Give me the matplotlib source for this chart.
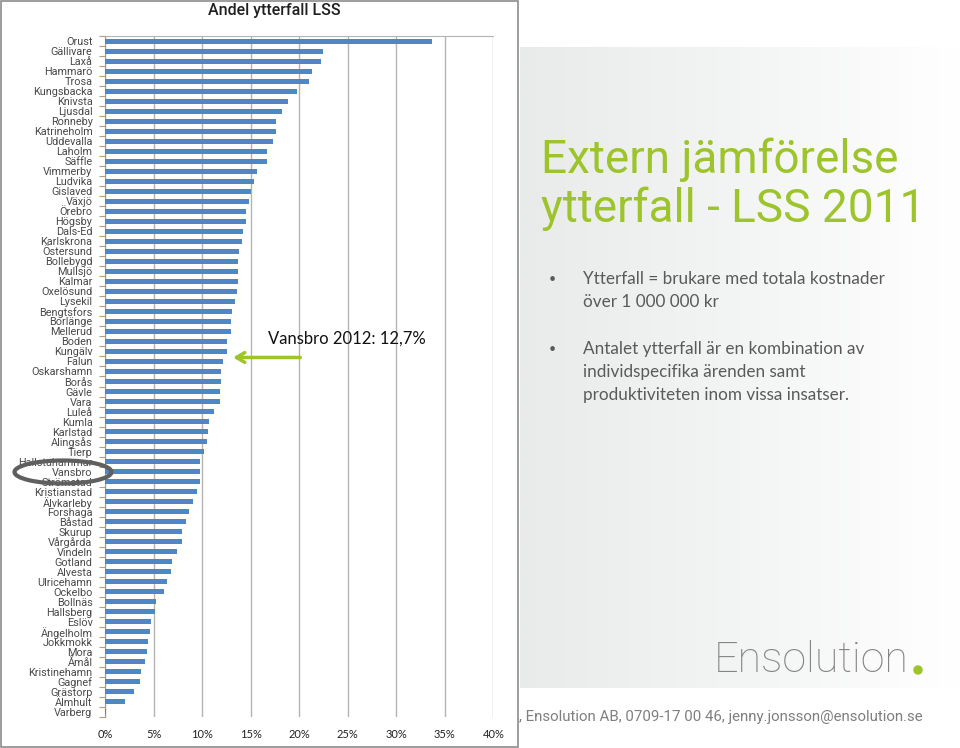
import matplotlib.pyplot as plt
import matplotlib.colors as mcolors
from matplotlib.patches import Rectangle, Ellipse
import numpy as np


kommuner = [
    "Orust", "Gällivare", "Laxå", "Hammarö", "Trosa", "Kungsbacka", "Knivsta",
    "Ljusdal", "Ronneby", "Katrineholm", "Uddevalla", "Laholm", "Säffle",
    "Vimmerby", "Ludvika", "Gislaved", "Växjö", "Örebro", "Högsby", "Dals-Ed",
    "Karlskrona", "Östersund", "Bollebygd", "Mullsjö", "Kalmar", "Oxelösund",
    "Lysekil", "Bengtsfors", "Borlänge", "Mellerud", "Boden", "Kungälv", "Falun",
    "Oskarshamn", "Borås", "Gävle", "Vara", "Luleå", "Kumla", "Karlstad",
    "Alingsås", "Tierp", "Hallstahammar", "Vansbro", "Strömstad", "Kristianstad",
    "Älvkarleby", "Forshaga", "Båstad", "Skurup", "Vårgårda", "Vindeln",
    "Gotland", "Alvesta", "Ulricehamn", "Ockelbo", "Bollnäs", "Hallsberg",
    "Eslöv", "Ängelholm", "Jokkmokk", "Mora", "Åmål", "Kristinehamn", "Gagnef",
    "Grästorp", "Älmhult", "Varberg",
]
andel = [
    33.7, 22.5, 22.2, 21.3, 21.0, 19.8, 18.8,
    18.2, 17.6, 17.6, 17.3, 16.7, 16.65,
    15.7, 15.4, 15.0, 14.8, 14.55, 14.5, 14.25,
    14.1, 13.8, 13.75, 13.7, 13.7, 13.6,
    13.35, 13.1, 12.95, 12.95, 12.6, 12.6, 12.2,
    12.0, 11.9, 11.85, 11.85, 11.2, 10.75, 10.65,
    10.5, 10.2, 9.8, 9.8, 9.75, 9.5,
    9.05, 8.7, 8.3, 7.9, 7.9, 7.4,
    6.9, 6.75, 6.4, 6.05, 5.3, 5.1,
    4.7, 4.6, 4.4, 4.3, 4.1, 3.7, 3.6,
    3.0, 2.05, 0.1,
]
xticks = [0, 5, 10, 15, 20, 25, 30, 35, 40]

GREEN = "#9dc42a"
BAR_BLUE = "#4f86c6"
W, H = 960, 748

fig = plt.figure(figsize=(W / 100, H / 100), dpi=100)
fig.patch.set_facecolor("white")

# background slide, drawn in pixel coordinates
bg = fig.add_axes([0, 0, 1, 1])
bg.set_xlim(0, W)
bg.set_ylim(H, 0)
bg.axis("off")

grad_cmap = mcolors.LinearSegmentedColormap.from_list("g", ["#e9eaea", "#f3f4f4", "#ffffff"])
bg.imshow(np.linspace(0, 1, 256).reshape(1, -1), cmap=grad_cmap, aspect="auto",
          extent=(520, W, 688, 47), zorder=0)
bg.text(519, 717, ", Ensolution AB, 0709-17 00 46, jenny.jonsson@ensolution.se",
        color="#7f7f7f", fontsize=10.8, family="Roboto", va="center", ha="left", zorder=1)
bg.add_patch(Rectangle((1, 0.5), 517, 746, facecolor="white", edgecolor="#8c8c8c",
                       linewidth=1.2, zorder=2))

bg.text(541, 173, "Extern jämförelse", color=GREEN, fontsize=33, family="Roboto",
        va="baseline", ha="left")
bg.text(541, 222, "ytterfall - LSS 2011", color=GREEN, fontsize=33, family="Roboto",
        va="baseline", ha="left")

text_gray = "#5a5a5a"
bullets = [
    (279, ["Ytterfall = brukare med totala kostnader", "över 1 000 000 kr"]),
    (349, ["Antalet ytterfall är en kombination av", "individspecifika ärenden samt",
           "produktiviteten inom vissa insatser."]),
]
for y0, lines in bullets:
    bg.text(549, y0, "•", color=text_gray, fontsize=9, family="Lato", va="center")
    for k, line in enumerate(lines):
        bg.text(583, y0 + 23 * k, line, color=text_gray, fontsize=12.3, family="Lato",
                va="center", ha="left")

bg.text(909, 661, "Ensolution", color="#858585", fontsize=31, family="Roboto",
        fontweight="light", ha="right", va="center")
bg.add_patch(Ellipse((918, 670), 8, 8, color=GREEN, zorder=3))

# chart
ax = fig.add_axes([105 / W, 1 - 717 / H, (493.3 - 105) / W, (717 - 36) / H])
ax.set_facecolor("none")
y = np.arange(len(kommuner))
ax.barh(y, andel, height=0.5, color=BAR_BLUE, zorder=3)
ax.set_xlim(0, 40)
ax.set_ylim(len(kommuner) - 0.5, -0.5)
ax.set_xticks(xticks)
ax.set_xticklabels([f"{v}%" for v in xticks], fontsize=8, family="Lato", color="#222222")
ax.set_yticks(y)
ax.set_yticklabels(kommuner, fontsize=7.8, family="Roboto", color="#4a4a4a")
ax.set_yticks(np.arange(len(kommuner) + 1) - 0.5, minor=True)
ax.tick_params(axis="y", which="major", length=0, pad=9)
ax.tick_params(axis="y", which="minor", length=4, color="#b89c7c", width=0.8)
ax.tick_params(axis="x", length=0, pad=9)
ax.grid(axis="x", color="#b4b4b4", linewidth=1, zorder=0)
for s in ["bottom", "right"]:
    ax.spines[s].set_visible(False)
ax.spines["top"].set_color("#b4b4b4")
ax.spines["left"].set_color("#9a9a9a")

fig.text(274 / W, 1 - 11 / H, "Andel ytterfall LSS", fontsize=11.5, family="Roboto",
         fontweight="medium", color="#202020", ha="center", va="center")

ax.annotate("", xy=(12.9, 31.6), xytext=(20.4, 31.6),
            arrowprops=dict(arrowstyle="->,head_length=0.6,head_width=0.35",
                            color=GREEN, linewidth=2.5), annotation_clip=False)
ax.text(16.8, 29.7, "Vansbro 2012: 12,7%", fontsize=12, family="Lato",
        color="#111111", va="center", ha="left")

# ellipse drawn over the Vansbro label
ov = fig.add_axes([0, 0, 1, 1])
ov.set_xlim(0, W)
ov.set_ylim(H, 0)
ov.axis("off")
ov.patch.set_alpha(0)
ov.add_patch(Ellipse((63, 472), 97, 23, fill=False, edgecolor="#5f5f5f", linewidth=3))

fig.savefig("out.png", dpi=100)
